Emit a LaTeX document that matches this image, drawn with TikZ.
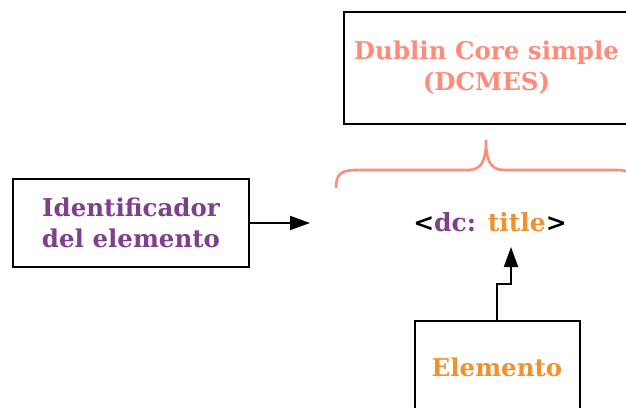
\documentclass[tikz,border=0pt]{standalone}
\usepackage{fontspec}
\setmainfont{DejaVu Serif}
\usetikzlibrary{arrows.meta}
\definecolor{salmon}{HTML}{FF8B7B}
\definecolor{purp}{HTML}{7E3F8C}
\definecolor{orng}{HTML}{F0912D}
\begin{document}
\begin{tikzpicture}[x=1pt,y=-1pt,
  box/.style={draw=black,line width=2pt,inner sep=0pt,align=center,font=\bfseries\fontsize{24.5}{31}\selectfont},
  arr/.style={line width=2pt,-{Triangle[length=20pt,width=14pt]}}]
\useasboundingbox (0,0) rectangle (626,407);
\node[box,minimum width=285pt,minimum height=112pt,text=salmon] (dcbox) at (486.5,68) {Dublin Core simple\\(DCMES)};
\draw[salmon,line width=2.6pt] (336,188) .. controls (336,173) and (342,170) .. (357,170) -- (468,170) .. controls (482,170) and (486,160) .. (486,140) .. controls (486,160) and (490,170) .. (504,170) -- (615,170) .. controls (630,170) and (636,173) .. (636,188);
\node[box,minimum width=236pt,minimum height=88pt,text=purp] (idbox) at (131,223) {Identificador\\del elemento};
\coordinate (idtip) at (310,223);
\draw[arr] (idbox.east) -- (idtip);
\node[font=\bfseries\fontsize{25}{30}\selectfont,inner sep=0pt] (tag) at (490,222) {<\textcolor{purp}{dc:} \textcolor{orng}{title}>};
\node[box,minimum width=165pt,minimum height=92pt,text=orng] (elbox) at (497,367) {Elemento};
\coordinate (bend) at (497,284);
\coordinate (tagtip) at (511,247);
\draw[arr] (elbox.north) -- (bend) -| (tagtip);
\end{tikzpicture}
\end{document}
